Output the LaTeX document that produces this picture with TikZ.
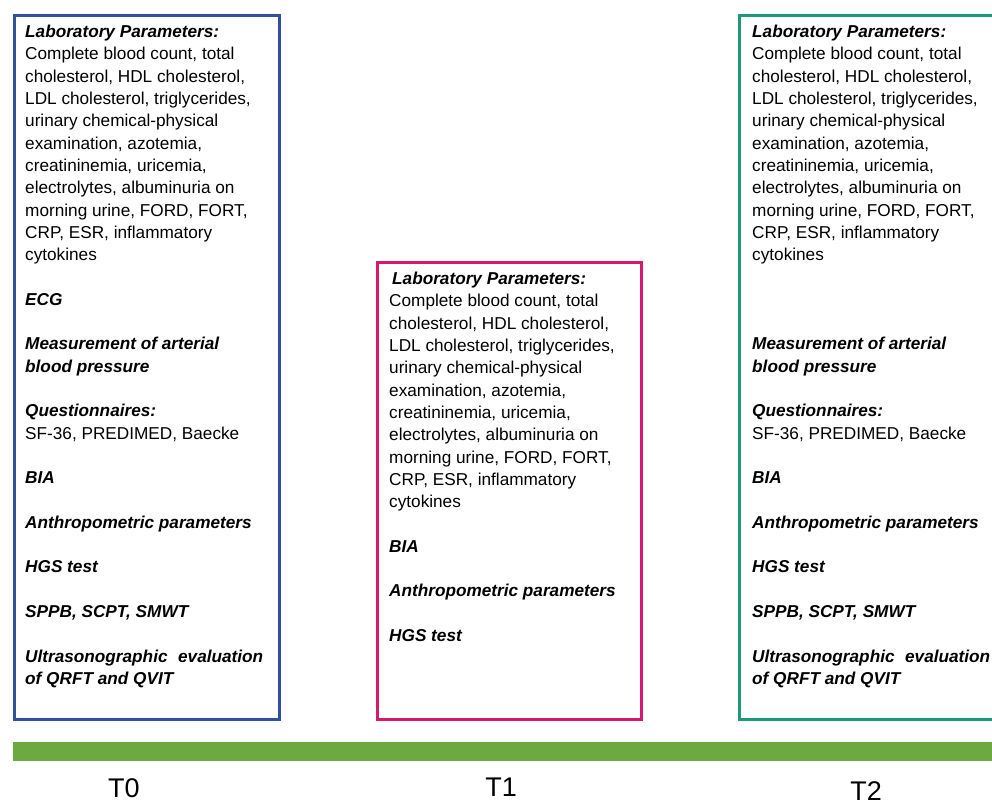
\documentclass[tikz,border=0pt]{standalone}
\usepackage{fontspec}
\setmainfont{Liberation Sans}
\usetikzlibrary{positioning}
\definecolor{czero}{RGB}{47,82,155}
\definecolor{cone}{RGB}{214,24,111}
\definecolor{ctwo}{RGB}{26,154,120}
\definecolor{cbar}{RGB}{109,169,67}
\tikzset{box/.style={draw,line width=3pt,inner sep=0pt,anchor=north west},txt/.style={anchor=north west,align=left,inner sep=0pt,font=\fontsize{17.2}{22.3}\selectfont},tlab/.style={font=\fontsize{27}{27}\selectfont}}
\newcommand\hd[1]{\textbf{\textit{#1}}}
\newcommand\labpar{Complete blood count, total\\cholesterol, HDL cholesterol,\\LDL cholesterol, triglycerides,\\urinary chemical-physical\\examination, azotemia,\\creatininemia, uricemia,\\electrolytes, albuminuria on\\morning urine, FORD, FORT,\\CRP, ESR, inflammatory\\cytokines}
\newcommand\tail{\hd{Questionnaires:}\\SF-36, PREDIMED, Baecke\\[22.3pt]\hd{BIA}\\[22.3pt]\hd{Anthropometric parameters}\\[22.3pt]\hd{HGS test}\\[22.3pt]\hd{SPPB, SCPT, SMWT}\\[22.3pt]\hd{\makebox[238pt][l]{Ultrasonographic\hfill evaluation}}\\\hd{of QRFT and QVIT}}

\begin{document}
\begin{tikzpicture}[x=1pt,y=1pt]
\clip(0,0)rectangle(992,805);
\node[box,draw=czero,minimum width=265pt,minimum height=704pt](B0)at(13,791){};
\node[box,draw=cone,minimum width=264pt,minimum height=457pt](B1)at(376,544){};
\node[box,draw=ctwo,minimum width=300pt,minimum height=704pt](B2)at(738,791){};
\node[txt](L0)at(25,780){\hd{Laboratory Parameters:}\\\labpar\\[22.3pt]\hd{ECG}\\[22.3pt]\hd{Measurement of arterial}\\\hd{blood pressure}\\[22.3pt]\tail};
\node[txt](L1)at(389,533){\hspace{3pt}\hd{Laboratory Parameters:}\\\labpar\\[22.3pt]\hd{BIA}\\[22.3pt]\hd{Anthropometric parameters}\\[22.3pt]\hd{HGS test}};
\node[txt](L2)at(752,780){\hd{Laboratory Parameters:}\\\labpar\\[22.3pt]\\[22.3pt]\hd{Measurement of arterial}\\\hd{blood pressure}\\[22.3pt]\tail};
\fill[cbar](13,44)rectangle(992,63);
\node[tlab](T0)at(124,17){T0};\node[tlab](T1)at(501,18){T1};\node[tlab](T2)at(866,14){T2};
\end{tikzpicture}
\end{document}
